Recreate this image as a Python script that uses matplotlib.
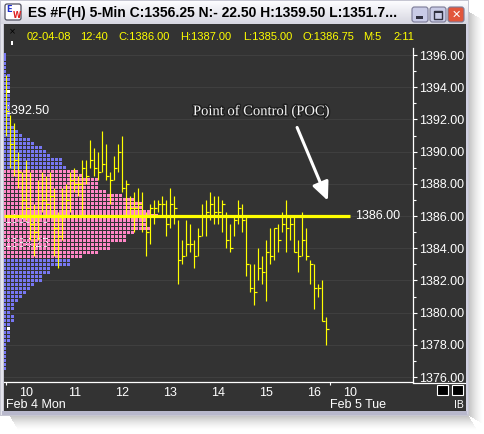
import numpy as np
import matplotlib
matplotlib.use('Agg')
import matplotlib.pyplot as plt
from matplotlib.patches import Rectangle, FancyBboxPatch
from matplotlib.collections import PatchCollection
from matplotlib.ticker import MultipleLocator, FormatStrFormatter
import matplotlib.patheffects as pe

# ---------------- data ----------------
title_text = 'ES #F(H) 5-Min C:1356.25 N:- 22.50 H:1359.50 L:1351.7...'
info_fields = ['02-04-08', '12:40', 'C:1386.00', 'H:1387.00', 'L:1385.00',
               'O:1386.75', 'M:5', '2:11']

# 5-minute bars, Feb 4 09:35 .. 16:15
bar_high = [1394.75, 1392.25, 1391.75, 1390.00, 1388.75, 1389.50, 1388.75, 1386.75, 1388.25, 1388.75,
            1388.50, 1388.75, 1387.75, 1386.25, 1387.75, 1388.00, 1388.75, 1389.00, 1388.50, 1389.50,
            1389.50, 1390.75, 1390.25, 1390.00, 1391.25, 1390.50, 1388.75, 1389.75, 1390.50, 1391.00,
            1388.25, 1387.25, 1387.50, 1387.75, 1387.50, 1386.25, 1386.75, 1387.00, 1387.00, 1387.25,
            1387.00, 1387.75, 1387.25, 1385.75, 1384.50, 1385.75, 1385.50, 1384.50, 1385.25, 1386.75,
            1387.00, 1387.50, 1387.25, 1387.25, 1387.00, 1386.25, 1385.50, 1386.00, 1387.00, 1386.75,
            1386.00, 1383.00, 1383.00, 1384.00, 1383.50, 1384.50, 1385.25, 1385.25, 1385.50, 1386.25,
            1387.00, 1386.00, 1386.00, 1384.50, 1386.25, 1385.25, 1383.25, 1383.00, 1381.75, 1382.00,
            1379.75]
bar_low = [1391.00, 1389.00, 1388.50, 1387.75, 1386.00, 1385.75, 1384.50, 1383.50, 1384.50, 1386.25,
           1386.00, 1386.00, 1383.50, 1382.75, 1384.50, 1386.00, 1386.25, 1387.50, 1387.25, 1386.00,
           1388.00, 1389.00, 1388.50, 1388.25, 1388.75, 1388.25, 1386.75, 1388.25, 1388.75, 1387.50,
           1386.00, 1386.00, 1385.00, 1386.00, 1385.00, 1383.50, 1384.25, 1385.50, 1386.25, 1386.00,
           1384.75, 1385.25, 1385.50, 1381.75, 1383.00, 1383.50, 1383.75, 1382.75, 1383.50, 1384.75,
           1384.75, 1385.75, 1385.50, 1385.50, 1385.00, 1384.00, 1383.75, 1384.75, 1385.50, 1385.00,
           1382.25, 1381.25, 1380.50, 1382.00, 1381.75, 1380.75, 1383.00, 1383.25, 1383.75, 1385.00,
           1383.75, 1384.50, 1383.75, 1382.50, 1383.50, 1383.25, 1381.75, 1380.25, 1381.00, 1379.50,
           1378.00]
bar_close = [1392.50, 1390.50, 1389.50, 1388.75, 1387.00, 1386.50, 1385.50, 1385.00, 1386.00, 1387.00,
             1386.75, 1387.25, 1385.25, 1384.75, 1386.00, 1387.00, 1388.25, 1388.00, 1388.00, 1389.00,
             1388.50, 1389.50, 1389.00, 1388.75, 1389.25, 1388.50, 1388.25, 1389.00, 1390.00, 1387.75,
             1388.00, 1386.50, 1386.50, 1386.75, 1386.00, 1385.00, 1386.50, 1386.50, 1386.75, 1386.75,
             1385.50, 1386.75, 1386.50, 1383.25, 1383.50, 1384.25, 1384.25, 1383.50, 1384.75, 1386.00,
             1386.25, 1386.75, 1386.25, 1386.25, 1386.75, 1384.50, 1384.00, 1385.75, 1386.50, 1385.75,
             1383.00, 1381.50, 1381.25, 1382.75, 1382.50, 1383.75, 1383.50, 1385.25, 1384.50, 1385.50,
             1385.25, 1385.50, 1383.75, 1383.50, 1384.50, 1383.50, 1383.00, 1381.50, 1381.50, 1379.50,
             1379.00]

# market profile (TPO counts per 0.25 price level, from 1396.00 downwards)
profile_top = 1396.00
tick_size = 0.25
tpo_counts = [1, 1, 1, 1, 1,
              2, 2, 2, 2, 2, 2, 2, 2, 2, 2, 2, 2, 2,
              3, 4, 5, 7, 8, 10, 11, 12, 15, 15, 16,
              19, 20, 24, 24, 24, 26, 30, 33, 35, 35, 37, 39, 36, 36, 37, 33, 31, 31, 27, 27, 24, 20,
              17, 17, 12, 12, 10, 10, 8, 7, 6, 5, 4, 3, 3, 2, 3, 3, 2,
              2, 2, 2, 2,
              1, 1, 1, 1, 1, 1, 1]
value_area_high = 1388.75
value_area_low = 1383.50
marker_prices = [1393.75, 1379.00]
poc_price = 1386.00
level_labels = ['1392.50', '1385.75', '1384.25']
level_prices = [1392.50, 1385.75, 1384.25]

hour_labels = ['10', '11', '12', '13', '14', '15', '16', '10']
hour_label_bars = [5, 17, 29, 41, 53, 65, 77, 86]
session_tick_bars = [0, 17, 29, 41, 53, 65, 77, 81]
date_labels = ['Feb 4 Mon', 'Feb 5 Tue']
date_label_bars = [0, 81]

# ---------------- style ----------------
SANS = ['Liberation Sans', 'DejaVu Sans']
YEL = '#ffff00'
BLUE = '#7777f2'
PINK = '#ff86c6'
PANEL = '#333333'

W, H = 485, 434
fig = plt.figure(figsize=(W / 100, H / 100), dpi=100, facecolor='white')

bg = fig.add_axes([0, 0, 1, 1])
bg.set_xlim(0, W)
bg.set_ylim(H, 0)
bg.axis('off')


def R(x, y, w, h, **kw):
    kw.setdefault('lw', 0)
    bg.add_patch(Rectangle((x, y), w, h, **kw))


# drop shadow
for j in range(14):
    a = 0.22 * (1 - j / 14) ** 1.5
    R(469 + j, 12 + j * 0.6, 1, 404, fc='black', alpha=a)
    R(10 + j * 0.6, 416 + j, 459, 1, fc='black', alpha=a)

# window frame
R(0, 0, 469, 416, fc='#c6c6d2')
R(1, 1, 2, 414, fc='#e4e4ec')
R(466, 24, 2, 390, fc='#d0d0e0')
R(2, 411, 465, 4, fc='#b8b8cc')
# title bar gradient
grad = np.linspace(0, 1, 24)[:, None, None]
top = np.array([0.99, 0.99, 1.0])
bot = np.array([0.84, 0.84, 0.88])
bg.imshow(top * (1 - grad) + bot * grad, extent=(1, 468, 24, 1), aspect='auto', zorder=1)
bg.text(28, 13, title_text, fontsize=10, fontweight='bold', family=SANS,
        ha='left', va='center', color='black', zorder=3)
# app icon
bg.add_patch(FancyBboxPatch((5, 4), 16, 16, boxstyle='round,pad=0,rounding_size=2',
                            fc='white', ec='#505060', lw=0.9, zorder=3))
bg.text(9.5, 9.5, 'E', fontsize=6, fontweight='bold', color='#2030d0', ha='center', va='center', zorder=4)
bg.text(16.5, 15.5, 'W', fontsize=5.5, fontweight='bold', color='#e02020', ha='center', va='center', zorder=4)
# window buttons
for bx, fc in [(412, '#c9cbe6'), (430, '#c9cbe6'), (448, '#e2563c')]:
    bg.add_patch(FancyBboxPatch((bx, 7), 16, 15, boxstyle='round,pad=0,rounding_size=2.5',
                                fc=fc, ec='#7a7a96', lw=0.8, zorder=3))
R(416, 16, 7, 2.5, fc='#303040', zorder=4)
bg.add_patch(Rectangle((434, 10.5), 8, 8, fc='none', ec='#303040', lw=1.0, zorder=4))
R(434, 10.5, 8, 2, fc='#303040', zorder=4)
bg.text(456, 14.5, '✕', fontsize=8, fontweight='bold', color='white', ha='center', va='center',
        family=['DejaVu Sans'], zorder=4)

# dark chart panel
R(4, 24, 462, 387, fc=PANEL, zorder=1)
# info line
info_x = [27, 80, 118, 180, 243, 303, 363, 393]
for s, x in zip(info_fields, info_x):
    bg.text(x, 37.5, s, fontsize=8, family=SANS, color=YEL, ha='left', va='center', zorder=3)
bg.text(12, 31.5, '×', fontsize=6, color='black', ha='center', va='center', zorder=3)
R(11, 41, 2, 4, fc='white', zorder=3)
# bottom axis line extension and small boxes
bg.plot([413, 465], [382.5, 382.5], color='white', lw=0.9, zorder=3)
for bx in (437.5, 452.5):
    bg.add_patch(Rectangle((bx, 384.5), 10.5, 10.5, fc='black', ec='white', lw=0.8, zorder=3))
bg.text(459, 405, 'IB', fontsize=7.5, family=SANS, color='white', ha='center', va='center', zorder=3)

# ---------------- main price axes ----------------
ax_l, ax_r, ax_t, ax_b = 4, 413, 48, 382
ax = fig.add_axes([ax_l / W, 1 - ax_b / H, (ax_r - ax_l) / W, (ax_b - ax_t) / H])
ax.set_facecolor('none')
ax.set_zorder(2)
ax.set_xlim(-0.575, 101.675)
ax.set_ylim(1396 - (382 - 55) / 16.1, 1396 + (55 - 48) / 16.1)

for s in ('left', 'top'):
    ax.spines[s].set_visible(False)
for s in ('right', 'bottom'):
    ax.spines[s].set_color('white')
    ax.spines[s].set_linewidth(0.9)

ax.yaxis.tick_right()
ax.yaxis.set_major_locator(MultipleLocator(2))
ax.yaxis.set_minor_locator(MultipleLocator(1))
ax.yaxis.set_major_formatter(FormatStrFormatter('%.2f'))
ax.tick_params(axis='y', which='major', colors='white', length=3, width=0.8, pad=1.5,
               labelsize=9, direction='out')
ax.tick_params(axis='y', which='minor', colors='white', length=2, width=0.8, direction='out')
for lab in ax.get_yticklabels():
    lab.set_family(SANS)
ax.yaxis.grid(True, which='major', color='#3f3f3f', lw=0.8)
ax.set_axisbelow(True)

ax.set_xticks(hour_label_bars, hour_labels)
ax.set_xticks(session_tick_bars, minor=True)
ax.tick_params(axis='x', which='major', length=0, pad=3.5, colors='white', labelsize=9)
ax.tick_params(axis='x', which='minor', length=2.5, width=0.8, colors='white', direction='out')
for lab in ax.get_xticklabels():
    lab.set_family(SANS)
for s, b in zip(date_labels, date_label_bars):
    ax.text(b, -0.068, s, transform=ax.get_xaxis_transform(), fontsize=9, family=SANS,
            color='white', ha='left', va='center', clip_on=False)

# level labels behind profile
for s, p in zip(level_labels, level_prices):
    ax.text(-0.55, p, s, fontsize=9, family=SANS, color='white', ha='left', va='center', zorder=1)

# market profile squares
prices = profile_top - tick_size * np.arange(len(tpo_counts))
rects, colors = [], []
for p, n in zip(prices, tpo_counts):
    in_va = value_area_low - 1e-9 <= p <= value_area_high + 1e-9
    for k in range(n):
        rects.append(Rectangle((k - 0.835, p - 0.095), 0.77, 0.19))
        if k == 1 and any(abs(p - m) < 1e-9 for m in marker_prices):
            colors.append('white')
        else:
            colors.append(PINK if in_va else BLUE)
pc = PatchCollection(rects, facecolors=colors, edgecolors='none', zorder=2, antialiased=True)
ax.add_collection(pc)

# HLC bars
idx = np.arange(len(bar_high))
ax.vlines(idx, bar_low, bar_high, color=YEL, lw=0.85, zorder=3)
ax.hlines(bar_close, idx, idx + 0.6, color=YEL, lw=0.85, zorder=3)

# point of control line
ax.hlines(poc_price, -0.6, 86, color=YEL, lw=2.3, zorder=4)
ax.text(87.2, poc_price, '1386.00', fontsize=9, family=SANS, color='white',
        ha='left', va='center', zorder=4)

# annotation
ax.text(63.7, 1392.5, 'Point of Control (POC)', fontsize=10.5,
        family=['Liberation Serif', 'DejaVu Serif'], color='#f4f4f4', ha='center', va='center',
        zorder=5, path_effects=[pe.withStroke(linewidth=2.2, foreground='#202020')])
ax.annotate('', xy=(80.4, 1386.95), xytext=(72.7, 1391.5), zorder=5,
            arrowprops=dict(arrowstyle='-|>,head_length=1.1,head_width=0.5', color='white',
                            lw=2.2, shrinkA=0, shrinkB=0))

fig.savefig('out.png', dpi=100, facecolor='white')
